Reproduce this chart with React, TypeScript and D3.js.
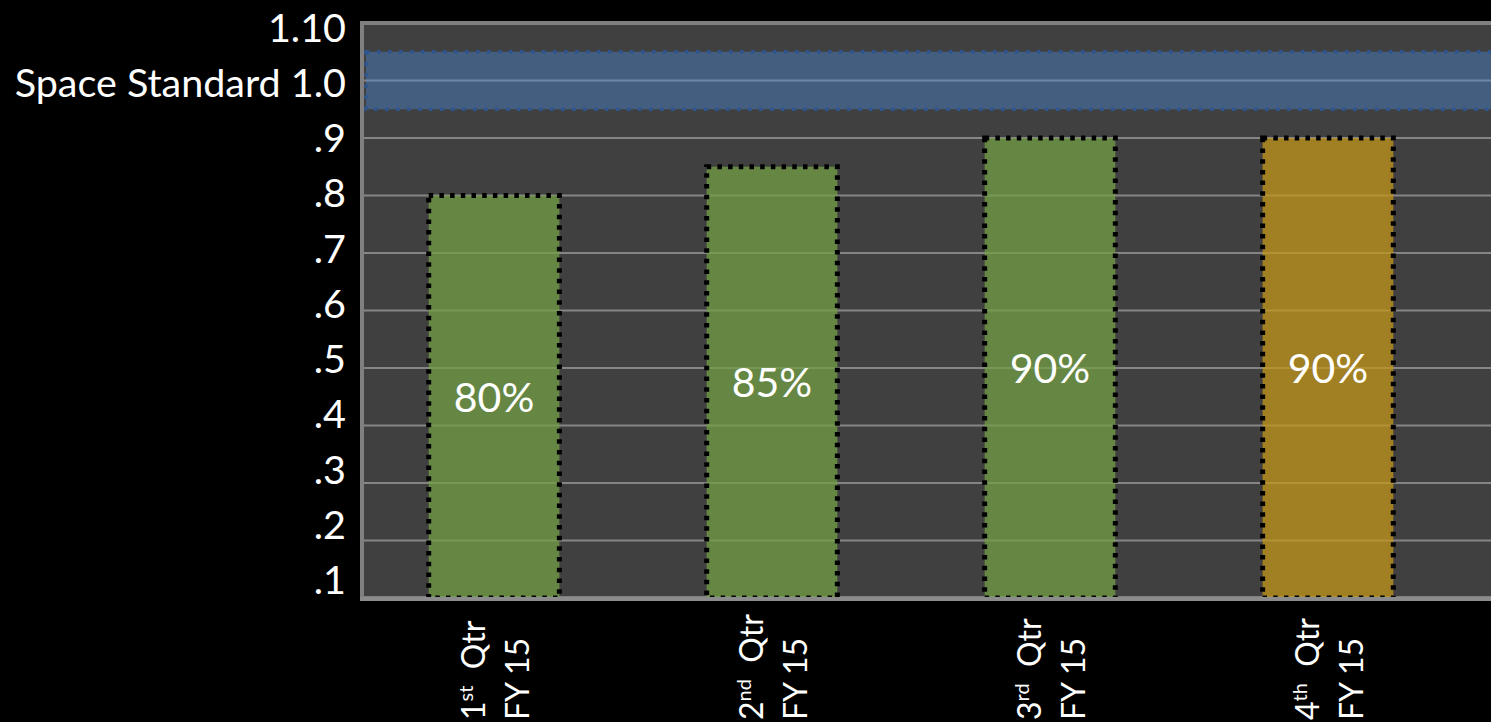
import React from "react";
import * as d3 from "d3";

const categories = ["1st Qtr FY 15", "2nd Qtr FY 15", "3rd Qtr FY 15", "4th Qtr FY 15"];
const catNumber = ["1", "2", "3", "4"];
const catSuffix = ["st", "nd", "rd", "th"];
const catWord = "Qtr";
const catYear = "FY 15";
const values = [80, 85, 90, 90];
const status = ["met", "met", "met", "caution"];
const tickValues = [0.1, 0.2, 0.3, 0.4, 0.5, 0.6, 0.7, 0.8, 0.9, 1.0, 1.1];
const tickLabels = [".1", ".2", ".3", ".4", ".5", ".6", ".7", ".8", ".9", "Space Standard 1.0", "1.10"];
const gridValues = [0.2, 0.3, 0.4, 0.5, 0.6, 0.7, 0.8, 0.9, 1.0];
const standardBand = [0.95, 1.05];

const W = 1491;
const H = 722;
const FONT = "Lato, 'Open Sans', sans-serif";

export default function App() {
  const plotLeft = 362;
  const plotTop = 23;
  const plotBottom = 598;
  const plotRight = 1560;

  const y = d3.scaleLinear().domain([0.1, 1.1]).range([plotBottom, plotTop]);
  const labelY = d3.scaleLinear().domain([0.1, 0.9]).range([580, 138]);
  const x = d3
    .scaleBand<string>()
    .domain(categories)
    .range([plotLeft, 1460])
    .paddingInner(0.53)
    .paddingOuter(0.24);

  const fills: Record<string, string> = {
    met: "rgba(116,160,70,0.74)",
    caution: "rgba(196,151,26,0.74)",
  };

  return (
    <svg
      width={W}
      height={H}
      style={{ position: "absolute", left: 0, top: 0, background: "#000" }}
    >
      <rect x={0} y={0} width={W} height={H} fill="#000" />
      <rect
        x={plotLeft}
        y={plotTop}
        width={plotRight - plotLeft}
        height={plotBottom - plotTop}
        fill="#404040"
        stroke="#808080"
        strokeWidth={4}
      />
      {gridValues.map((v) => (
        <line
          key={v}
          x1={plotLeft + 2}
          x2={plotRight}
          y1={y(v)}
          y2={y(v)}
          stroke="#858585"
          strokeWidth={2}
        />
      ))}
      <rect
        x={plotLeft + 4}
        y={y(standardBand[1])}
        width={plotRight - plotLeft}
        height={y(standardBand[0]) - y(standardBand[1])}
        fill="rgba(76,140,222,0.4)"
        stroke="#2e5590"
        strokeWidth={3.5}
        strokeDasharray="3.5 7.5"
      />
      {categories.map((c, i) => {
        const top = y(values[i] / 100);
        const bx = x(c) as number;
        const bw = x.bandwidth();
        return (
          <g key={c}>
            <rect
              x={bx}
              y={top}
              width={bw}
              height={plotBottom - top}
              fill={fills[status[i]]}
              stroke="#000"
              strokeWidth={5}
              strokeDasharray="4.5 6.2"
            />
            <text
              x={bx + bw / 2}
              y={(top + plotBottom) / 2}
              dy="0.36em"
              textAnchor="middle"
              fill="#fff"
              fontFamily={FONT}
              fontSize={41}
            >
              {values[i]}%
            </text>
          </g>
        );
      })}
      <line
        x1={plotLeft - 2}
        x2={plotRight}
        y1={plotBottom + 1}
        y2={plotBottom + 1}
        stroke="#8c8c8c"
        strokeWidth={4}
      />
      {tickValues.map((v, i) => (
        <text
          key={v}
          x={346}
          y={labelY(v)}
          dy="0.36em"
          textAnchor="end"
          fill="#fff"
          fontFamily={FONT}
          fontSize={39.5}
        >
          {tickLabels[i]}
        </text>
      ))}
      {categories.map((c, i) => {
        const cx = (x(c) as number) + x.bandwidth() / 2;
        return (
          <g key={c} transform={`translate(${cx},720) rotate(-90)`}>
            <text x={0} y={-9} fill="#fff" fontFamily={FONT} fontSize={32}>
              <tspan>{catNumber[i]}</tspan>
              <tspan fontSize={20} dy={-12}>
                {catSuffix[i]}
              </tspan>
              <tspan dy={12} xmlSpace="preserve" style={{ whiteSpace: "pre" }}>
                {"  " + catWord}
              </tspan>
            </text>
            <text x={0} y={35} fill="#fff" fontFamily={FONT} fontSize={32}>
              {catYear}
            </text>
          </g>
        );
      })}
    </svg>
  );
}
